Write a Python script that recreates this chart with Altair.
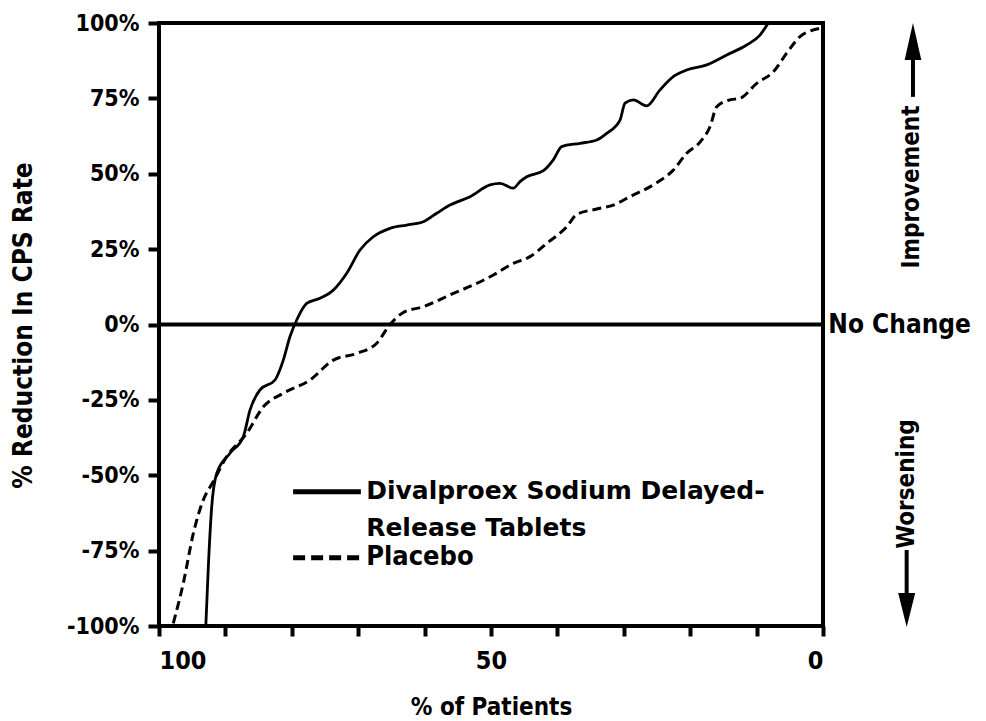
import altair as alt
import pandas as pd

# Divalproex Sodium Delayed-Release Tablets (solid)
div_x = [92.95, 92.57, 92.06, 91.31, 89.31, 87.30, 86.30, 84.79, 82.53, 81.28,
         80.27, 79.26, 77.76, 75.75, 73.75, 71.73, 69.73, 67.73, 65.21, 62.70,
         60.20, 58.18, 56.17, 53.16, 50.15, 48.64, 46.64, 45.63, 44.62, 42.12,
         40.62, 39.35, 36.60, 34.08, 32.58, 30.57, 29.82, 28.57, 26.55, 24.55,
         22.55, 20.53, 17.52, 14.50, 11.49, 9.49, 8.24]
div_y = [-100, -80.3, -60.4, -49.4, -42.7, -37.2, -28.4, -21.7, -18.4, -11.8,
         -4.0, 1.5, 7.0, 8.7, 11.4, 17.0, 24.7, 29.1, 31.9, 33.0,
         34.1, 36.9, 39.6, 42.4, 46.3, 46.8, 45.2, 47.4, 49.0, 51.0,
         54.6, 59.0, 60.1, 61.2, 63.4, 67.8, 73.4, 74.5, 72.5, 77.8,
         82.2, 84.4, 86.1, 89.4, 92.7, 96.0, 100.0]

# Placebo (dashed)
pla_x = [97.85, 96.34, 94.83, 93.33, 91.82, 89.80, 86.79, 84.29, 81.28, 77.26,
         73.75, 70.23, 67.21, 65.21, 63.21, 60.20, 55.68, 52.67, 49.65, 46.64,
         44.13, 41.61, 38.60, 37.09, 34.08, 31.58, 29.07, 25.05, 22.55, 20.53,
         18.52, 17.02, 16.01, 14.01, 12.50, 9.98, 7.49, 5.47, 3.46, 1.46, 0.45]
pla_y = [-99.1, -85.8, -69.3, -58.2, -52.1, -43.8, -36.1, -27.3, -22.8, -18.4,
         -11.8, -9.6, -6.2, 0.0, 4.0, 5.9, 10.3, 13.1, 16.4, 20.3,
         22.5, 26.9, 32.4, 36.5, 38.3, 39.6, 42.4, 47.0, 51.2, 56.8,
         60.5, 65.6, 72.2, 74.5, 75.0, 80.0, 83.8, 90.0, 95.5, 97.7, 98.2]

y_ticks = [-100, -75, -50, -25, 0, 25, 50, 75, 100]
x_ticks = [0, 10, 20, 30, 40, 50, 60, 70, 80, 90, 100]

COND = "DejaVu Sans Condensed"
WIDE = "DejaVu Sans"

df_div = pd.DataFrame({"x": div_x, "y": div_y})
df_pla = pd.DataFrame({"x": pla_x, "y": pla_y})

xs = alt.Scale(domain=[0, 100], reverse=True, nice=False, zero=False)
ys = alt.Scale(domain=[-100, 100], nice=False, zero=False)

X = alt.X("x:Q", scale=xs, axis=alt.Axis(
    values=x_ticks, labelExpr="datum.value % 50 == 0 ? datum.value : ''",
    title="% of Patients", titleFont=COND, titleFontSize=24, titleFontWeight="bold",
    titleColor="black", titleY=81, titleBaseline="middle",
    labelFont=COND, labelFontSize=25, labelFontWeight="bold", labelColor="black",
    labelPadding=12, labelBaseline="top",
    tickSize=10, tickWidth=4, tickColor="black", domain=False, grid=False))
Y = alt.Y("y:Q", scale=ys, axis=alt.Axis(
    values=y_ticks, labelExpr="datum.value + '%'",
    title="% Reduction In CPS Rate", titleFont=COND, titleFontSize=26,
    titleFontWeight="bold", titleColor="black", titleX=-136, titleY=302,
    titleBaseline="middle", titleAngle=-90,
    labelFont=COND, labelFontSize=23, labelFontWeight="bold", labelColor="black",
    labelPadding=9, tickSize=11, tickWidth=4, tickColor="black",
    domain=False, grid=False))

solid = alt.Chart(df_div).mark_line(color="black", strokeWidth=2.8,
                                    interpolate="monotone").encode(x=X, y=Y)
dashed = alt.Chart(df_pla).mark_line(color="black", strokeWidth=3,
                                     strokeDash=[9, 5],
                                     interpolate="monotone").encode(x="x:Q", y="y:Q")

zero_df = pd.DataFrame({"y": [0]})
zero = alt.Chart(zero_df).mark_rule(color="black", strokeWidth=4).encode(y="y:Q")

# legend
leg_lines = pd.DataFrame({"x": [79.8, 79.8], "x2": [69.6, 69.6],
                          "y": [-55.5, -77.4], "kind": ["s", "d"]})
leg_solid = alt.Chart(leg_lines[leg_lines.kind == "s"]).mark_rule(
    color="black", strokeWidth=5).encode(x="x:Q", x2="x2:Q", y="y:Q")
leg_dash = alt.Chart(leg_lines[leg_lines.kind == "d"]).mark_rule(
    color="black", strokeWidth=5, strokeDash=[12, 6]).encode(x="x:Q", x2="x2:Q", y="y:Q")

leg_text1 = pd.DataFrame({"x": [68.8, 68.8], "y": [-55.3, -67.5],
                          "t": ["Divalproex Sodium Delayed-", "Release Tablets"]})
leg_t1 = alt.Chart(leg_text1).mark_text(
    font=WIDE, fontSize=25, fontWeight="bold", align="left", baseline="middle",
    color="black").encode(x="x:Q", y="y:Q", text="t:N")
leg_text2 = pd.DataFrame({"x": [68.8], "y": [-77.2], "t": ["Placebo"]})
leg_t2 = alt.Chart(leg_text2).mark_text(
    font=COND, fontSize=27, fontWeight="bold", align="left", baseline="middle",
    color="black").encode(x="x:Q", y="y:Q", text="t:N")

# right-side annotations
nc = alt.Chart(pd.DataFrame({"x": [-0.8], "y": [0], "t": ["No Change"]})).mark_text(
    font=COND, fontSize=26, fontWeight="bold", align="left", baseline="middle",
    color="black").encode(x="x:Q", y="y:Q", text="t:N")
side_txt = alt.Chart(pd.DataFrame({"x": [-13.4, -12.65], "y": [45.6, -52.9],
                                   "t": ["Improvement", "Worsening"]})).mark_text(
    font=COND, fontSize=24, fontWeight="bold", align="center", baseline="middle",
    angle=270, color="black").encode(x="x:Q", y="y:Q", text="t:N")
shafts = alt.Chart(pd.DataFrame({"x": [-13.55, -12.6], "y": [89.0, -74.8],
                                 "y2": [75.5, -90.0]})).mark_rule(
    color="black", strokeWidth=4).encode(x="x:Q", y="y:Q", y2="y2:Q")
head_up = alt.Chart(pd.DataFrame({"x": [-13.55], "y": [93.9]})).mark_point(
    shape="M0,-1 L0.45,1 L-0.45,1 Z", size=1369, filled=True, opacity=1,
    color="black", strokeWidth=0).encode(x="x:Q", y="y:Q")
head_dn = alt.Chart(pd.DataFrame({"x": [-12.6], "y": [-94.7]})).mark_point(
    shape="M0,1 L0.5,-1 L-0.5,-1 Z", size=1156, filled=True, opacity=1,
    color="black", strokeWidth=0).encode(x="x:Q", y="y:Q")

chart = alt.layer(
    solid, dashed, zero, leg_solid, leg_dash, leg_t1, leg_t2, nc, side_txt,
    shafts, head_up, head_dn
).properties(
    width=664, height=603,
    autosize=alt.AutoSizeParams(type="none"),
    padding={"left": 151, "top": 15, "right": 150, "bottom": 93},
    background="white",
).configure_view(stroke="black", strokeWidth=4)

chart.save("out.html", embed_options={"renderer": "svg", "actions": False})
